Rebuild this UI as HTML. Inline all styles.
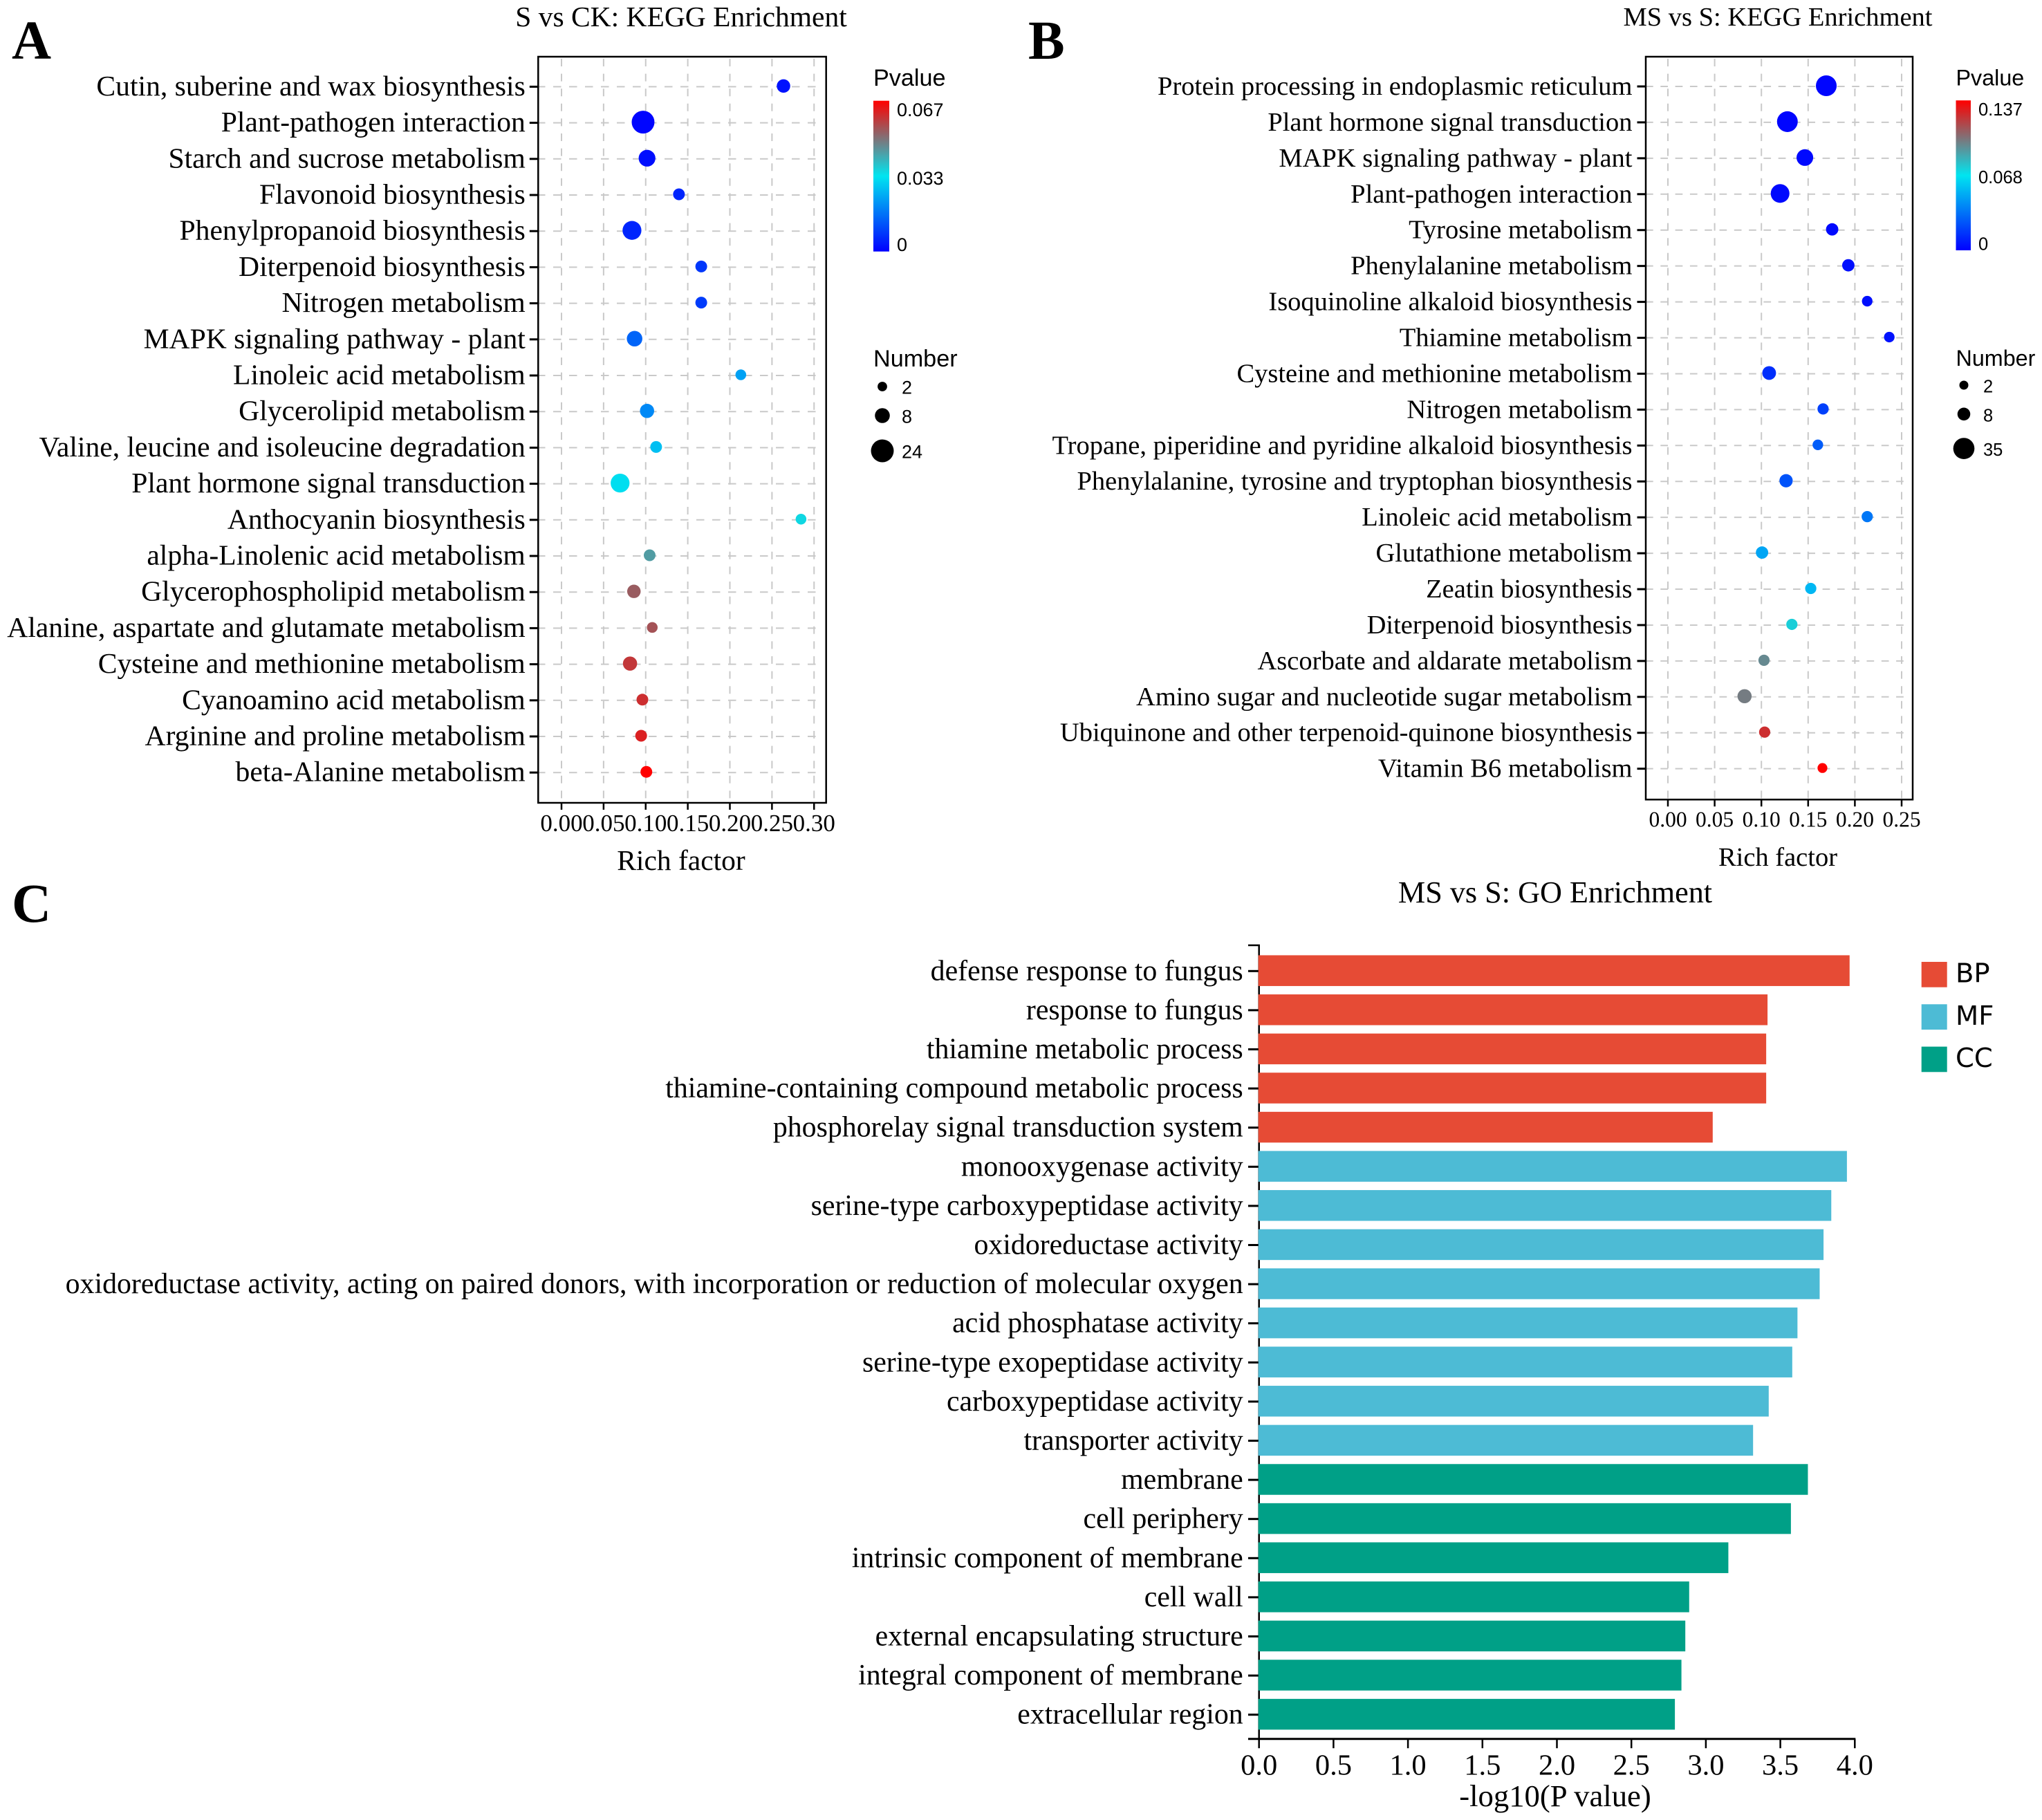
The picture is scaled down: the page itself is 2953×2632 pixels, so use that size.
<!DOCTYPE html>
<html lang="en">
<head>
<meta charset="utf-8">
<title>KEGG and GO enrichment panels</title>
<style>
html,body{margin:0;padding:0;background:#fff;width:2953px;height:2632px;overflow:hidden}
svg{display:block}
.serif{font-family:"Liberation Serif",serif;fill:#000}
.sans{font-family:"Liberation Sans",sans-serif;fill:#000}
.deja{font-family:"DejaVu Sans",sans-serif;fill:#000}
</style>
</head>
<body>
<svg id="figure" xmlns="http://www.w3.org/2000/svg" width="2953" height="2632" viewBox="0 0 2953 2632">
  <defs>
    <linearGradient id="pvalue-gradient" x1="0" y1="1" x2="0" y2="0">
      <stop offset="0" stop-color="#0000ff"/>
      <stop offset="0.5" stop-color="#00e5f0"/>
      <stop offset="1" stop-color="#ff0000"/>
    </linearGradient>
  </defs>
  <rect width="2953" height="2632" fill="#fff"/>
  <text class="serif" x="17" y="85" font-size="79" font-weight="bold">A</text>
  <text class="serif" x="1487" y="85" font-size="79" font-weight="bold">B</text>
  <text class="serif" x="17" y="1333" font-size="79" font-weight="bold">C</text>
  <text class="serif" x="985" y="38" font-size="41.5" text-anchor="middle">S vs CK: KEGG Enrichment</text>
  <text class="serif" x="2571" y="37" font-size="38.5" text-anchor="middle">MS vs S: KEGG Enrichment</text>
  <text class="serif" x="2249" y="1305" font-size="44.2" text-anchor="middle">MS vs S: GO Enrichment</text>
  <text class="serif" x="985" y="1258" font-size="41.5" text-anchor="middle">Rich factor</text>
  <text class="serif" x="2571" y="1252" font-size="38.5" text-anchor="middle">Rich factor</text>
  <text class="serif" x="2249" y="2612" font-size="44.7" text-anchor="middle">-log10(P value)</text>
  <g id="panel-a"></g>
  <g id="panel-b"></g>
  <g id="panel-c"></g>
</svg>
<script>
// Panel A data
const aCategories = ["Cutin, suberine and wax biosynthesis","Plant-pathogen interaction","Starch and sucrose metabolism","Flavonoid biosynthesis","Phenylpropanoid biosynthesis","Diterpenoid biosynthesis","Nitrogen metabolism","MAPK signaling pathway - plant","Linoleic acid metabolism","Glycerolipid metabolism","Valine, leucine and isoleucine degradation","Plant hormone signal transduction","Anthocyanin biosynthesis","alpha-Linolenic acid metabolism","Glycerophospholipid metabolism","Alanine, aspartate and glutamate metabolism","Cysteine and methionine metabolism","Cyanoamino acid metabolism","Arginine and proline metabolism","beta-Alanine metabolism"];
const aRichFactor = [0.2637,0.0969,0.1016,0.1395,0.0837,0.166,0.166,0.0868,0.213,0.1016,0.1124,0.0696,0.2845,0.1047,0.086,0.1078,0.0814,0.0961,0.0946,0.1008];
const aPvalue = [0.0027,0.0007,0.002,0.0054,0.0054,0.008,0.0087,0.0147,0.0235,0.02,0.028,0.0325,0.0355,0.0442,0.0536,0.055,0.059,0.0603,0.0623,0.067];
const aNumber = [6,24,11,4,15,4,4,9,3,7,4,15,3,4,6,3,7,4,4,4];
const aXTicks = [0,0.05,0.1,0.15,0.2,0.25,0.3];
const aPvalueTicks = [0,0.033,0.067];
const aLegendNumbers = [2,8,24];

// Panel B data
const bCategories = ["Protein processing in endoplasmic reticulum","Plant hormone signal transduction","MAPK signaling pathway - plant","Plant-pathogen interaction","Tyrosine metabolism","Phenylalanine metabolism","Isoquinoline alkaloid biosynthesis","Thiamine metabolism","Cysteine and methionine metabolism","Nitrogen metabolism","Tropane, piperidine and pyridine alkaloid biosynthesis","Phenylalanine, tyrosine and tryptophan biosynthesis","Linoleic acid metabolism","Glutathione metabolism","Zeatin biosynthesis","Diterpenoid biosynthesis","Ascorbate and aldarate metabolism","Amino sugar and nucleotide sugar metabolism","Ubiquinone and other terpenoid-quinone biosynthesis","Vitamin B6 metabolism"];
const bRichFactor = [0.1694,0.1278,0.1465,0.12,0.1757,0.193,0.2132,0.2368,0.1083,0.166,0.1604,0.1264,0.2132,0.1007,0.1528,0.1326,0.1028,0.082,0.1035,0.1653];
const bPvalue = [0.0014,0.0014,0.0027,0.0027,0.0027,0.0041,0.0041,0.0055,0.0137,0.0192,0.0274,0.0247,0.0356,0.0493,0.0548,0.0754,0.0959,0.1,0.1233,0.137];
const bNumber = [33,33,18,25,7,7,4,4,10,5,4,9,5,7,5,5,5,11,5,3];
const bXTicks = [0,0.05,0.1,0.15,0.2,0.25];
const bPvalueTicks = [0,0.068,0.137];
const bLegendNumbers = [2,8,35];

// Panel C data
const cCategories = ["defense response to fungus","response to fungus","thiamine metabolic process","thiamine-containing compound metabolic process","phosphorelay signal transduction system","monooxygenase activity","serine-type carboxypeptidase activity","oxidoreductase activity","oxidoreductase activity, acting on paired donors, with incorporation or reduction of molecular oxygen","acid phosphatase activity","serine-type exopeptidase activity","carboxypeptidase activity","transporter activity","membrane","cell periphery","intrinsic component of membrane","cell wall","external encapsulating structure","integral component of membrane","extracellular region"];
const cValues = [3.965,3.414,3.405,3.405,3.046,3.947,3.842,3.79,3.764,3.615,3.58,3.422,3.317,3.685,3.571,3.151,2.888,2.862,2.836,2.792];
const cGroups = ["BP","BP","BP","BP","BP","MF","MF","MF","MF","MF","MF","MF","MF","CC","CC","CC","CC","CC","CC","CC"];
const cXTicks = [0,0.5,1,1.5,2,2.5,3,3.5,4];
const cGroupNames = ["BP","MF","CC"];

const SVGNS = "http://www.w3.org/2000/svg";
function make(parent, tag, attrs, txt) {
  const node = document.createElementNS(SVGNS, tag);
  for (const k in attrs) node.setAttribute(k, attrs[k]);
  if (txt !== undefined) node.textContent = txt;
  parent.appendChild(node);
  return node;
}
function slug(s) {
  return s.toLowerCase().replace(/[^a-z0-9]+/g, '-').replace(/^-|-$/g, '');
}
function mix(a, b, t) {
  return a.map((v, i) => Math.round(v + (b[i] - v) * t));
}
function pColor(t) {
  const low = [0, 0, 255], mid = [0, 229, 240], high = [255, 0, 0];
  const c = t < 0.5 ? mix(low, mid, t * 2) : mix(mid, high, (t - 0.5) * 2);
  return 'rgb(' + c.join(',') + ')';
}

function bubblePanel(root, o) {
  const xScale = v => o.x0 + v * o.xPerUnit;
  const yScale = i => o.y0 + i * o.yStep;
  const pMax = Math.max.apply(null, o.pTicks);
  const sizeScale = n => o.sizeBase + o.sizeSlope * Math.sqrt(n);
  const pLabelY = v => o.pLabelZeroY + (o.pLabelMaxY - o.pLabelZeroY) * v / pMax;
  const gridEnd = xScale(o.xTicks[o.xTicks.length - 1]) + 5;

  o.categories.forEach((name, i) => {
    const line = make(root, 'line', {x1: o.left, x2: gridEnd, y1: yScale(i), y2: yScale(i), stroke: '#c9c9c9', 'stroke-width': 2, 'stroke-dasharray': o.hDash, 'stroke-dashoffset': o.hDashOffset});
    
    
  });
  o.xTicks.forEach(v => {
    const line = make(root, 'line', {x1: xScale(v), x2: xScale(v), y1: o.top + 3, y2: o.bottom, stroke: '#c9c9c9', 'stroke-width': 2, 'stroke-dasharray': '11 10.6'});
    
    
  });

  const frame = make(root, 'rect', {x: o.left, y: o.top, width: o.right - o.left, height: o.bottom - o.top, fill: 'none', stroke: '#000', 'stroke-width': 2.5});
  
  

  o.categories.forEach((name, i) => {
    const tick = make(root, 'line', {x1: o.left - 12.5, x2: o.left, y1: yScale(i), y2: yScale(i), stroke: '#000', 'stroke-width': 3});
    
    
    const label = make(root, 'text', {x: o.left - o.labelGap, y: yScale(i) + o.labelDy, 'font-size': o.labelFont, 'text-anchor': 'end', class: 'serif'}, name);
    
    
  });

  o.xTicks.forEach(v => {
    const tick = make(root, 'line', {x1: xScale(v), x2: xScale(v), y1: o.bottom, y2: o.bottom + 10, stroke: '#000', 'stroke-width': 2.5});
    
    
    const label = make(root, 'text', {x: xScale(v), y: o.xLabelY, 'font-size': o.xFont, 'text-anchor': 'middle', class: 'serif'}, v.toFixed(2));
    
    
  });

  o.categories.forEach((name, i) => {
    const dot = make(root, 'circle', {cx: xScale(o.rich[i]), cy: yScale(i) - 1, r: sizeScale(o.number[i]) / 2, fill: pColor(o.pvalue[i] / pMax)});
    
    
  });

  const pTitle = make(root, 'text', {x: o.legendX, y: o.pTitleY, 'font-size': o.legendTitleFont, class: 'sans'}, 'Pvalue');
  
  
  const bar = make(root, 'rect', {x: o.legendX, y: o.barTop, width: o.barWidth, height: o.barBottom - o.barTop, fill: 'url(#pvalue-gradient)'});
  
  
  o.pTicks.forEach(v => {
    const label = make(root, 'text', {x: o.legendX + o.barWidth + 11, y: pLabelY(v), 'font-size': o.legendFont, class: 'sans'}, String(v));
    
    
  });

  const nTitle = make(root, 'text', {x: o.legendX, y: o.nTitleY, 'font-size': o.legendTitleFont, class: 'sans'}, 'Number');
  
  
  o.legendNumbers.forEach((n, i) => {
    const cy = o.nLegendY[i];
    const dot = make(root, 'circle', {cx: o.nDotX, cy: cy, r: sizeScale(n) / 2, fill: '#000'});
    
    
    const label = make(root, 'text', {x: o.nDotX + 28, y: cy + 10.5, 'font-size': o.legendFont, class: 'sans'}, String(n));
    
    
  });
}

bubblePanel(document.getElementById('panel-a'), {
  categories: aCategories, rich: aRichFactor, pvalue: aPvalue, number: aNumber,
  xTicks: aXTicks, pTicks: aPvalueTicks, legendNumbers: aLegendNumbers,
  left: 778.3, right: 1194.7, top: 82, bottom: 1161,
  x0: 812, xPerUnit: 1217.5, y0: 125.4, yStep: 52.2,
  labelFont: 41.6, labelGap: 18.5, labelDy: 12.5, xLabelY: 1202, xFont: 35,
  hDash: '11.5 11.5', hDashOffset: 1.3,
  sizeBase: 6, sizeSlope: 5.5,
  legendX: 1263, barWidth: 23, barTop: 145.7, barBottom: 363.7,
  legendTitleFont: 34.2, legendFont: 27,
  pTitleY: 124, pLabelZeroY: 363, pLabelMaxY: 168,
  nTitleY: 530, nDotX: 1276, nLegendY: [559, 601, 652]
});

bubblePanel(document.getElementById('panel-b'), {
  categories: bCategories, rich: bRichFactor, pvalue: bPvalue, number: bNumber,
  xTicks: bXTicks, pTicks: bPvalueTicks, legendNumbers: bLegendNumbers,
  left: 2380, right: 2766, top: 82, bottom: 1156.3,
  x0: 2412, xPerUnit: 1352, y0: 125, yStep: 51.93,
  labelFont: 38.5, labelGap: 19.5, labelDy: 12, xLabelY: 1195.7, xFont: 31.5,
  hDash: '10.7 10.6', hDashOffset: 0,
  sizeBase: 7.44, sizeSlope: 3.93,
  legendX: 2828.5, barWidth: 21.5, barTop: 145.2, barBottom: 362,
  legendTitleFont: 32.3, legendFont: 25.5,
  pTitleY: 123.5, pLabelZeroY: 361.5, pLabelMaxY: 167,
  nTitleY: 528.8, nDotX: 2840, nLegendY: [557, 598.8, 648.6]
});

(function () {
  const root = document.getElementById('panel-c');
  const x0 = 1820.7, xPerUnit = 215.4, y0 = 1404.3, yStep = 56.6, barH = 44.5, axisY = 2514.7;
  const xScale = v => x0 + v * xPerUnit;
  const yScale = i => y0 + i * yStep;
  const colors = {BP: '#e64b35', MF: '#4dbbd5', CC: '#00a087'};

  const axis = make(root, 'path', {d: 'M' + (x0 - 15.7) + ' 1367H' + x0 + 'V' + axisY, fill: 'none', stroke: '#000', 'stroke-width': 2.5});
  
  
  const xAxis = make(root, 'line', {x1: x0 - 15.7, x2: xScale(4) + 1, y1: axisY, y2: axisY, stroke: '#000', 'stroke-width': 3});
  
  

  cCategories.forEach((name, i) => {
    const barEl = make(root, 'rect', {x: x0 - 1, y: yScale(i) - barH / 2 - 0.6, width: cValues[i] * xPerUnit + 1, height: barH, fill: colors[cGroups[i]]});
    
    
    const tick = make(root, 'line', {x1: x0 - 15.7, x2: x0 - 1, y1: yScale(i), y2: yScale(i), stroke: '#000', 'stroke-width': 3});
    
    
    const label = make(root, 'text', {x: x0 - 23, y: yScale(i) + 13, 'font-size': 41.85, 'text-anchor': 'end', class: 'serif'}, name);
    
    
  });

  cXTicks.forEach(v => {
    const tick = make(root, 'line', {x1: xScale(v), x2: xScale(v), y1: axisY, y2: axisY + 13.5, stroke: '#000', 'stroke-width': 2.5});
    
    
    const label = make(root, 'text', {x: xScale(v), y: 2566.7, 'font-size': 42.5, 'text-anchor': 'middle', class: 'serif'}, v.toFixed(1));
    
    
  });

  cGroupNames.forEach((g, i) => {
    const swatch = make(root, 'rect', {x: 2778.7, y: 1391 + i * 61.3, width: 37, height: 36.7, fill: colors[g]});
    
    
    const label = make(root, 'text', {x: 2828, y: 1420.7 + i * 61.2, 'font-size': 38.5, class: 'deja'}, g);
    
    
  });
})();
</script>
</body>
</html>
